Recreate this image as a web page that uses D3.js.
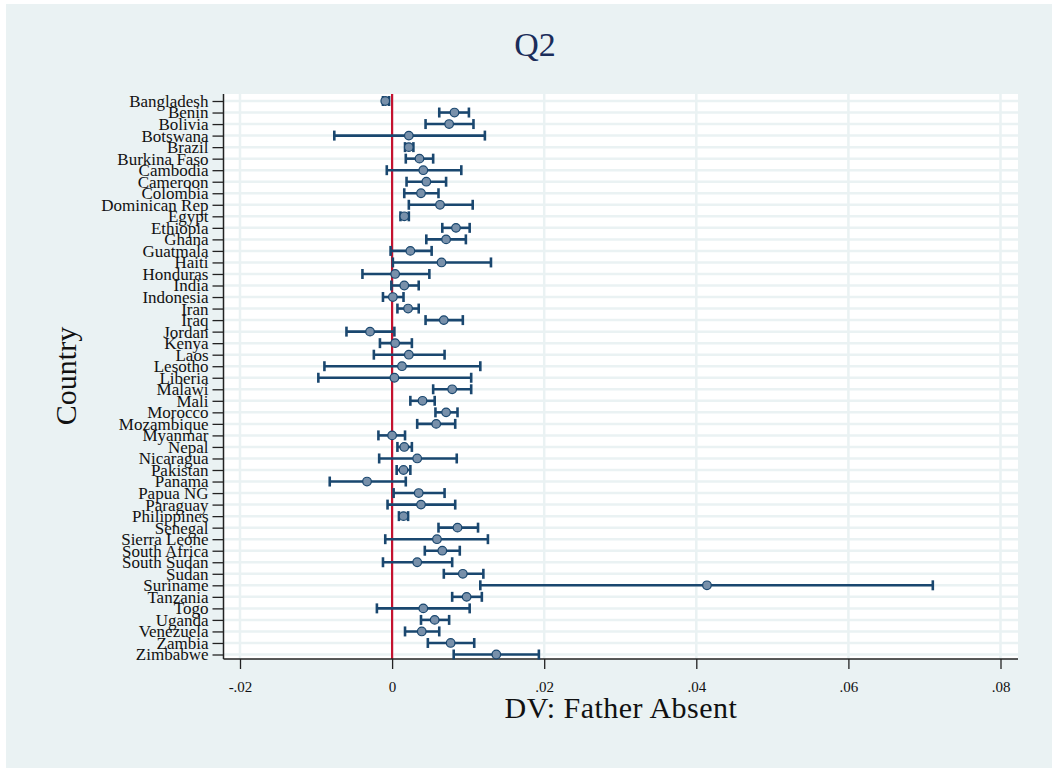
<!DOCTYPE html>
<html>
<head>
<meta charset="utf-8">
<script src="https://cdn.jsdelivr.net/npm/d3@7"></script>
<style>
  html, body { margin: 0; padding: 0; background: #fff; }
  text { font-family: "Liberation Serif", "Times New Roman", serif; }
</style>
</head>
<body>
<div id="chart"></div>
<script>
const countries = ["Bangladesh", "Benin", "Bolivia", "Botswana", "Brazil", "Burkina Faso", "Cambodia",
    "Cameroon", "Colombia", "Dominican Rep", "Egypt", "Ethiopia", "Ghana", "Guatmala", "Haiti",
    "Honduras", "India", "Indonesia", "Iran", "Iraq", "Jordan", "Kenya", "Laos", "Lesotho", "Liberia",
    "Malawi", "Mali", "Morocco", "Mozambique", "Myanmar", "Nepal", "Nicaragua", "Pakistan", "Panama",
    "Papua NG", "Paraguay", "Philippines", "Senegal", "Sierra Leone", "South Africa", "South Sudan",
    "Sudan", "Suriname", "Tanzania", "Togo", "Uganda", "Venezuela", "Zambia", "Zimbabwe"];

const estimates = [-0.0009, 0.0082, 0.0075, 0.0022, 0.0022, 0.0036, 0.0041,
    0.0045, 0.0038, 0.0063, 0.0016, 0.0084, 0.0071, 0.0024, 0.0065,
    0.0004, 0.0016, 0.0001, 0.0021, 0.0068, -0.0029, 0.0004, 0.0022, 0.0013, 0.0003,
    0.0079, 0.0040, 0.0071, 0.0058, 0.0000, 0.0016, 0.0033, 0.0015, -0.0033,
    0.0035, 0.0038, 0.0015, 0.0086, 0.0059, 0.0066, 0.0033,
    0.0093, 0.0414, 0.0098, 0.0041, 0.0056, 0.0039, 0.0077, 0.0137];

const lower = [-0.0012, 0.0062, 0.0044, -0.0076, 0.0017, 0.0018, -0.0007,
    0.0019, 0.0016, 0.0022, 0.0011, 0.0066, 0.0045, -0.0002, 0.0001,
    -0.0039, -0.0001, -0.0012, 0.0007, 0.0044, -0.0060, -0.0016, -0.0024, -0.0089, -0.0097,
    0.0054, 0.0024, 0.0057, 0.0033, -0.0018, 0.0007, -0.0017, 0.0006, -0.0082,
    0.0002, -0.0006, 0.0009, 0.0061, -0.0009, 0.0043, -0.0012,
    0.0068, 0.0116, 0.0079, -0.0020, 0.0038, 0.0017, 0.0047, 0.0081];

const upper = [-0.0004, 0.0101, 0.0107, 0.0122, 0.0028, 0.0054, 0.0091,
    0.0071, 0.0061, 0.0106, 0.0022, 0.0102, 0.0097, 0.0052, 0.0130,
    0.0049, 0.0035, 0.0015, 0.0035, 0.0093, 0.0003, 0.0026, 0.0069, 0.0116, 0.0104,
    0.0104, 0.0056, 0.0086, 0.0083, 0.0017, 0.0026, 0.0085, 0.0024, 0.0018,
    0.0069, 0.0083, 0.0021, 0.0113, 0.0126, 0.0089, 0.0079,
    0.0120, 0.0711, 0.0118, 0.0102, 0.0075, 0.0062, 0.0108, 0.0193];

const xTicks = [-0.02, 0, 0.02, 0.04, 0.06, 0.08];
const xTickLabels = ["-.02", "0", ".02", ".04", ".06", ".08"];

const data = countries.map((c, i) => ({ country: c, est: estimates[i], lo: lower[i], hi: upper[i] }));

const width = 1052, height = 769;
const plot = { left: 224, right: 1018, top: 94, bottom: 659 };

const svg = d3.select("#chart").append("svg")
    .attr("width", width)
    .attr("height", height);

// outer background
svg.append("rect")
    .attr("x", 6).attr("y", 4)
    .attr("width", width - 6).attr("height", height - 5)
    .attr("fill", "#eaf2f3");

// plot region
svg.append("rect")
    .attr("x", plot.left).attr("y", plot.top)
    .attr("width", plot.right - plot.left).attr("height", plot.bottom - plot.top)
    .attr("fill", "#ffffff");

const x = d3.scaleLinear()
    .domain([-0.02, 0.08])
    .range([240, 1000.5]);

const y = d3.scalePoint()
    .domain(countries)
    .range([101, 654.5]);

// Grid
svg.append("g").selectAll("line")
    .data(countries)
    .enter()
    .append("line")
    .attr("x1", plot.left).attr("x2", plot.right)
    .attr("y1", d => y(d)).attr("y2", d => y(d))
    .style("stroke", "#eaf2f3")
    .style("stroke-width", 2.5);

svg.append("g").selectAll("line")
    .data(xTicks)
    .enter()
    .append("line")
    .attr("x1", d => x(d)).attr("x2", d => x(d))
    .attr("y1", plot.top).attr("y2", plot.bottom)
    .style("stroke", "#eaf2f3")
    .style("stroke-width", 2.5);

// zero line
svg.append("line")
    .attr("x1", x(0)).attr("x2", x(0))
    .attr("y1", plot.top).attr("y2", plot.bottom)
    .style("stroke", "#c4122f")
    .style("stroke-width", 2.2);

// Axes
const xAxis = d3.axisBottom(x)
    .tickValues(xTicks)
    .tickFormat((d, i) => xTickLabels[i])
    .tickSize(10)
    .tickPadding(12);

const gx = svg.append("g")
    .attr("transform", `translate(0,${plot.bottom})`)
    .call(xAxis);
gx.select(".domain").remove();
gx.selectAll(".tick line").style("stroke", "#222").style("stroke-width", 1.3);
gx.selectAll(".tick text")
    .style("font-family", "'Liberation Serif', serif")
    .style("font-size", "15px")
    .style("fill", "#111");
svg.append("line")
    .attr("x1", plot.left - 0.5).attr("x2", plot.right)
    .attr("y1", plot.bottom).attr("y2", plot.bottom)
    .style("stroke", "#222").style("stroke-width", 1.5);

const yAxis = d3.axisLeft(y)
    .tickSize(11)
    .tickPadding(4);

const gy = svg.append("g")
    .attr("transform", `translate(${plot.left - 0.5},0)`)
    .call(yAxis);
gy.select(".domain").remove();
gy.selectAll(".tick line").style("stroke", "#222").style("stroke-width", 1.3);
gy.selectAll(".tick text")
    .style("font-family", "'Liberation Serif', serif")
    .style("font-size", "17px")
    .style("fill", "#111");
svg.append("line")
    .attr("x1", plot.left - 0.5).attr("x2", plot.left - 0.5)
    .attr("y1", plot.top).attr("y2", plot.bottom)
    .style("stroke", "#222").style("stroke-width", 1.5);

// Confidence intervals
const ci = svg.append("g").selectAll("g")
    .data(data)
    .enter()
    .append("g")
    .style("stroke", "#1a476f")
    .style("stroke-width", 2.6);

ci.append("line")
    .attr("x1", d => x(d.lo)).attr("x2", d => x(d.hi))
    .attr("y1", d => y(d.country)).attr("y2", d => y(d.country));

ci.append("line")
    .attr("x1", d => x(d.lo)).attr("x2", d => x(d.lo))
    .attr("y1", d => y(d.country) - 5).attr("y2", d => y(d.country) + 5);

ci.append("line")
    .attr("x1", d => x(d.hi)).attr("x2", d => x(d.hi))
    .attr("y1", d => y(d.country) - 5).attr("y2", d => y(d.country) + 5);

// Points
svg.append("g").selectAll("circle")
    .data(data)
    .enter()
    .append("circle")
    .attr("cx", d => x(d.est))
    .attr("cy", d => y(d.country))
    .attr("r", 4.3)
    .style("fill", "#7890aa")
    .style("stroke", "#1a476f")
    .style("stroke-width", 1.2);

// Titles
svg.append("text")
    .attr("x", 535).attr("y", 56)
    .attr("text-anchor", "middle")
    .style("font-size", "34px")
    .style("fill", "#1a2d5a")
    .text("Q2");

svg.append("text")
    .attr("x", 621).attr("y", 718)
    .attr("text-anchor", "middle")
    .style("font-size", "30px")
    .style("letter-spacing", "0.5px")
    .style("fill", "#111")
    .text("DV: Father Absent");

svg.append("text")
    .attr("transform", "translate(76,376) rotate(-90)")
    .attr("text-anchor", "middle")
    .style("font-size", "30px")
    .style("fill", "#111")
    .text("Country");
</script>
</body>
</html>
